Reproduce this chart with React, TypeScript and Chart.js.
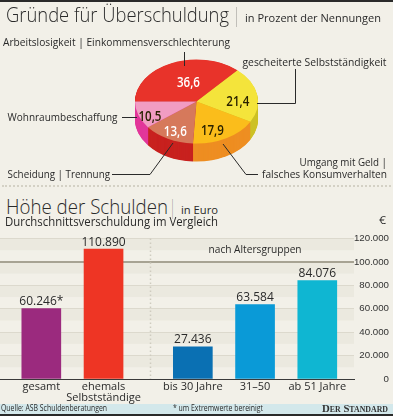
import React, { useEffect, useRef } from "react";
import { Chart, registerables } from "chart.js";

Chart.register(...registerables);

// ---------- data ----------
const PIE_LABELS = [
  "Arbeitslosigkeit | Einkommensverschlechterung",
  "gescheiterte Selbstständigkeit",
  "Umgang mit Geld | falsches Konsumverhalten",
  "Scheidung | Trennung",
  "Wohnraumbeschaffung",
];
const PIE_VALUES = [36.6, 21.4, 17.9, 13.6, 10.5];
const PIE_COLORS = ["#e8332a", "#f4e43b", "#fbbd1b", "#d6795b", "#f19cc2"];
const PIE_SIDE_COLORS = ["#c41e1d", "#cdc126", "#ee8e22", "#c8221f", "#e2369a"];
const PIE_VALUE_COLORS = ["#ffffff", "#2a2200", "#2a2200", "#ffffff", "#2a2200"];

const BAR_LABELS: (string | string[])[] = ["gesamt", ["ehemals", "Selbstständige"], "bis 30 Jahre", "31–50", "ab 51 Jahre"];
const BAR_VALUES = [60246, 110890, 27436, 63584, 84076];
const BAR_NOTES = ["*", "", "", "", ""];
const BAR_COLORS = ["#9b2a7e", "#ee3524", "#0a70b3", "#0a9ad7", "#0fb6d2"];
const Y_TICKS = [0, 20000, 40000, 60000, 80000, 100000, 120000];
const GROUP_LABEL = "nach Altersgruppen";

// ---------- layout / style constants ----------
const BG = "#f2f0e8";
const TEXT = "#2a2a2a";
const FONT = "'Open Sans', 'DejaVu Sans', sans-serif";
const SY = 0.683; // vertical squash of the pie
const DEPTH = 18; // thickness of pie side
const LABEL_NUDGE = [[7, 5], [5, 4.5], [-2, 7.5], [-4, 8.5], [-11.6, 7]];
const GROUP_START = 2;
const GROUP_GAP = 0.435;
const slot = (i: number) => i + (i >= GROUP_START ? GROUP_GAP : 0);
const fmt = (v: number) => v.toLocaleString("de-DE");

const measureCtx: CanvasRenderingContext2D | null =
  typeof document !== "undefined" ? document.createElement("canvas").getContext("2d") : null;
const textWidth = (text: string, font: string) => {
  if (!measureCtx) return 1;
  measureCtx.font = font;
  return measureCtx.measureText(text).width || 1;
};

function drawFit(ctx: CanvasRenderingContext2D, text: string, x: number, y: number, target: number, align: CanvasTextAlign) {
  const w = ctx.measureText(text).width || 1;
  ctx.save();
  ctx.translate(x, y);
  ctx.scale(target / w, 1);
  ctx.textAlign = align;
  ctx.fillText(text, 0, 0);
  ctx.restore();
}

const pie3d = {
  id: "pie3d",
  beforeDatasetsDraw(chart: any) {
    const ctx = chart.ctx;
    const arcs = chart.getDatasetMeta(0).data;
    const cx = arcs[0].x, cy = arcs[0].y;
    ctx.save();
    ctx.translate(cx, cy);
    ctx.scale(1, SY);
    ctx.translate(-cx, -cy);
    for (let t = DEPTH; t > 0; t -= 0.5) {
      const dy = t / SY;
      arcs.forEach((a: any, i: number) => {
        ctx.beginPath();
        ctx.moveTo(cx, cy + dy);
        ctx.arc(cx, cy + dy, a.outerRadius, a.startAngle, a.endAngle);
        ctx.closePath();
        ctx.fillStyle = PIE_SIDE_COLORS[i];
        ctx.fill();
      });
    }
  },
  afterDatasetsDraw(chart: any) {
    const ctx = chart.ctx;
    ctx.restore();
    const arcs = chart.getDatasetMeta(0).data;
    ctx.save();
    ctx.font = `600 14px ${FONT}`;
    ctx.textBaseline = "middle";
    arcs.forEach((a: any, i: number) => {
      const mid = (a.startAngle + a.endAngle) / 2;
      const r = a.outerRadius * 0.6;
      const x = a.x + Math.cos(mid) * r + LABEL_NUDGE[i][0];
      const y = a.y + Math.sin(mid) * r * SY + LABEL_NUDGE[i][1];
      ctx.fillStyle = PIE_VALUE_COLORS[i];
      drawFit(ctx, fmt(PIE_VALUES[i]), x, y, 23, "center");
    });
    ctx.restore();
  },
  afterDraw(chart: any) {
    const ctx = chart.ctx;
    ctx.save();
    ctx.strokeStyle = "#2a2a2a";
    ctx.lineWidth = 1;
    const lines = [
      [[184.5, 52], [184.5, 66]],
      [[295.5, 69], [295.5, 103.5], [257, 103.5]],
      [[122, 117.5], [137, 117.5]],
      [[112, 174.5], [150, 174.5], [173, 143]],
      [[258, 174.5], [246, 174.5], [223, 144]],
    ];
    lines.forEach((pts) => {
      ctx.beginPath();
      pts.forEach((p, k) => (k ? ctx.lineTo(p[0], p[1]) : ctx.moveTo(p[0], p[1])));
      ctx.stroke();
    });
    ctx.font = `11px ${FONT}`;
    ctx.fillStyle = TEXT;
    ctx.textBaseline = "alphabetic";
    drawFit(ctx, PIE_LABELS[0], 3, 46, 227, "left");
    drawFit(ctx, PIE_LABELS[1], 242.5, 65.5, 144, "left");
    drawFit(ctx, PIE_LABELS[4], 7.5, 121, 110, "left");
    drawFit(ctx, PIE_LABELS[3], 7.5, 177.5, 102.5, "left");
    const [l1, l2] = PIE_LABELS[2].split(" | ");
    drawFit(ctx, l1 + " |", 387, 166, 87.5, "right");
    drawFit(ctx, l2, 387, 177.5, 125, "right");
    ctx.restore();
  },
};

const barDecor = {
  id: "barDecor",
  beforeDraw(chart: any) {
    const { ctx, chartArea: ca, scales } = chart;
    const y = scales.y;
    ctx.save();
    for (let v = 0; v < 120000; v += 10000) {
      if ((v / 10000) % 2 === 1) {
        const top = y.getPixelForValue(v + 10000);
        const bot = y.getPixelForValue(v);
        ctx.fillStyle = "#ebe9df";
        ctx.fillRect(ca.left, top, ca.right - ca.left, bot - top);
      }
    }
    ctx.restore();
  },
  afterDatasetsDraw(chart: any) {
    const { ctx, chartArea: ca, scales } = chart;
    const x = scales.x, y = scales.y;
    ctx.save();
    const sepX = Math.round(x.getPixelForValue((slot(GROUP_START - 1) + slot(GROUP_START)) / 2)) + 2.5;
    ctx.strokeStyle = "#cfccbf";
    ctx.lineWidth = 1.5;
    ctx.setLineDash([1.5, 2.5]);
    ctx.beginPath();
    ctx.moveTo(sepX, ca.top);
    ctx.lineTo(sepX, ca.bottom);
    ctx.stroke();
    ctx.setLineDash([]);
    const bars = chart.getDatasetMeta(0).data;
    ctx.font = `12px ${FONT}`;
    ctx.fillStyle = TEXT;
    ctx.textAlign = "center";
    ctx.textBaseline = "alphabetic";
    bars.forEach((b: any, i: number) => {
      ctx.fillText(fmt(BAR_VALUES[i]) + BAR_NOTES[i], b.x, b.y - 3.5);
    });
    const gx = bars.slice(GROUP_START).reduce((s: number, b: any) => s + b.x, 0) / (bars.length - GROUP_START);
    ctx.font = `11px ${FONT}`;
    ctx.textBaseline = "middle";
    drawFit(ctx, GROUP_LABEL, gx, y.getPixelForValue(110000), 93, "center");
    ctx.restore();
  },
};

function PieChart() {
  const ref = useRef<HTMLCanvasElement>(null);
  useEffect(() => {
    const chart = new Chart(ref.current!, {
      type: "pie",
      data: {
        labels: PIE_LABELS,
        datasets: [{ data: PIE_VALUES, backgroundColor: PIE_COLORS, borderWidth: 0, clip: false } as any],
      },
      options: {
        responsive: false,
        animation: false,
        rotation: -90,
        layout: { padding: { left: 135, right: 135, top: 40, bottom: 22 } },
        plugins: { legend: { display: false }, tooltip: { enabled: false } },
        events: [],
      },
      plugins: [pie3d],
    });
    return () => chart.destroy();
  }, []);
  return <canvas ref={ref} width={393} height={185} style={{ position: "absolute", left: 0, top: 0, width: 393, height: 185 }} />;
}

function BarChart() {
  const ref = useRef<HTMLCanvasElement>(null);
  useEffect(() => {
    const chart = new Chart(ref.current!, {
      type: "bar",
      data: {
        labels: BAR_LABELS as any,
        datasets: [
          {
            data: BAR_VALUES.map((v, i) => ({ x: slot(i), y: v })) as any,
            backgroundColor: BAR_COLORS,
            borderWidth: 0,
            barThickness: 39,
          },
        ],
      },
      options: {
        responsive: false,
        animation: false,
        events: [],
        layout: { padding: { left: 0, right: 4, top: 13.5, bottom: 0 } },
        plugins: { legend: { display: false }, tooltip: { enabled: false } },
        scales: {
          x: {
            type: "linear",
            min: -0.664,
            max: 5.025,
            offset: false,
            grid: { display: false, drawTicks: false },
            border: { display: true, color: "#3a3a3a", width: 1 },
            afterBuildTicks: (s: any) => {
              s.ticks = BAR_VALUES.map((_, i) => ({ value: slot(i) }));
            },
            afterFit: (s: any) => {
              s.height = 25;
            },
            ticks: {
              autoSkip: false,
              maxRotation: 0,
              padding: 3,
              color: TEXT,
              font: { family: FONT, size: 11, lineHeight: 0.95 },
              callback: (_v: any, i: number) => BAR_LABELS[i] as any,
            },
          },
          y: {
            type: "linear",
            position: "right",
            min: 0,
            max: 120000,
            border: { display: false },
            grid: {
              drawTicks: false,
              color: (c: any) => (c.tick && c.tick.value === 100000 ? "#a7a393" : c.tick && c.tick.value === 0 ? "#3a3a3a" : "#dcd9cd"),
              lineWidth: (c: any) => (c.tick && c.tick.value === 100000 ? 2 : 1),
            },
            afterBuildTicks: (s: any) => {
              s.ticks = Y_TICKS.map((v) => ({ value: v }));
            },
            afterFit: (s: any) => {
              s.width = 35;
            },
            ticks: {
              crossAlign: "far",
              padding: 0,
              color: "#333",
              font: { family: "'Liberation Sans', Arial, sans-serif", size: 9.7 },
              callback: (v: any) => fmt(Number(v)),
            },
          },
        },
      } as any,
      plugins: [barDecor],
    });
    return () => chart.destroy();
  }, []);
  return <canvas ref={ref} width={393} height={179} style={{ position: "absolute", left: 0, top: 225, width: 393, height: 179 }} />;
}

type FitProps = {
  text: string;
  x: number;
  baseline: number;
  size: number;
  target: number;
  weight?: number;
  family?: string;
  variant?: string;
  ascent?: number;
  color?: string;
  align?: "left" | "right";
};

function Fit({ text, x, baseline, size, target, weight = 400, family = FONT, variant = "normal", ascent = 0.888, color = TEXT, align = "left" }: FitProps) {
  const font = `${variant === "normal" ? "" : variant + " "}${weight} ${size}px ${family}`;
  const s = target / textWidth(text, font);
  return (
    <div
      style={{
        position: "absolute",
        left: align === "left" ? x : x - target,
        top: baseline - ascent * size,
        fontSize: size,
        lineHeight: `${size}px`,
        fontFamily: family,
        fontWeight: weight,
        fontVariant: variant as any,
        whiteSpace: "nowrap",
        color,
        transform: `scaleX(${s})`,
        transformOrigin: "left top",
      }}
    >
      {text}
    </div>
  );
}

export default function App() {
  return (
    <div style={{ position: "absolute", left: 0, top: 0, width: 393, height: 416, background: BG, overflow: "hidden" }}>
      <div style={{ position: "absolute", left: 0, top: 0, width: 393, height: 2, background: "#2a2a2a" }} />
      <PieChart />
      <div style={{ position: "absolute", left: 2, top: 185, width: 389, height: 0, borderTop: "2px dotted #d4d1c5" }} />
      <BarChart />
      <Fit text="Gründe für Überschuldung" x={6} baseline={22.5} size={20.5} weight={300} target={223} />
      <Fit text="|" x={235} baseline={22.5} size={20.5} weight={300} target={3} />
      <Fit text="in Prozent der Nennungen" x={245} baseline={22.5} size={11.5} target={136} />
      <Fit text="Höhe der Schulden" x={6} baseline={214} size={20.5} weight={300} target={162} />
      <Fit text="|" x={171} baseline={214} size={20.5} weight={300} target={3} />
      <Fit text="in Euro" x={181} baseline={214} size={11.5} target={37} />
      <Fit text="Durchschnittsverschuldung im Vergleich" x={5} baseline={227} size={12.5} target={213} />
      <Fit text="€" x={379} baseline={224} size={11} target={7} />
      <div style={{ position: "absolute", left: 0, top: 404, width: 393, height: 10, background: "#d3e8eb" }} />
      <div style={{ position: "absolute", left: 0, top: 414, width: 393, height: 2, background: "#2a2a2a" }} />
      <Fit text="Quelle: ASB Schuldenberatungen" x={1} baseline={412} size={8.5} target={106} />
      <Fit text="* um Extremwerte bereinigt" x={173} baseline={412} size={8.5} target={90} />
      <Fit
        text="Der Standard"
        x={388}
        align="right"
        baseline={412.5}
        size={11}
        weight={700}
        family="'Liberation Serif', serif"
        variant="small-caps"
        ascent={0.8375}
        target={66}
        color="#333"
      />
    </div>
  );
}
